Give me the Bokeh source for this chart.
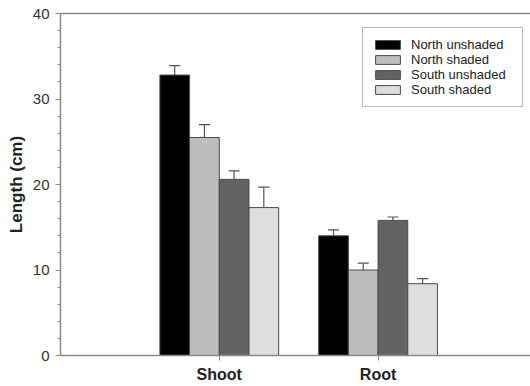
from bokeh.plotting import figure
from bokeh.models import (Range1d, FixedTicker, LinearAxis, Legend, LegendItem,
                          ColumnDataSource, Whisker, TeeHead)
from bokeh.embed import file_html
from bokeh.resources import INLINE

# Plant part groups and the four treatment series (mean length, cm, and SE)
categories = ["Shoot", "Root"]
series_names = ["North unshaded", "North shaded", "South unshaded", "South shaded"]
north_unshaded = [32.8, 14.0]
north_unshaded_err = [1.1, 0.7]
north_shaded = [25.5, 10.0]
north_shaded_err = [1.5, 0.8]
south_unshaded = [20.6, 15.8]
south_unshaded_err = [1.0, 0.4]
south_shaded = [17.3, 8.4]
south_shaded_err = [2.4, 0.6]
y_ticks = [0, 10, 20, 30, 40]

values = [north_unshaded, north_shaded, south_unshaded, south_shaded]
errors = [north_unshaded_err, north_shaded_err, south_unshaded_err, south_shaded_err]
colors = ["#000000", "#bdbdbd", "#636363", "#dedede"]

group_pos = [1, 2]
bar_w = 0.187
offsets = [-1.5 * bar_w, -0.5 * bar_w, 0.5 * bar_w, 1.5 * bar_w]

p = figure(width=530, height=386, output_backend="svg", toolbar_location=None,
           x_range=Range1d(0, 2.96), y_range=Range1d(0, 40))
p.min_border_left = 60
p.min_border_right = 0
p.min_border_top = 13
p.min_border_bottom = 31
p.outline_line_color = None
p.grid.grid_line_color = None
p.background_fill_color = "white"
p.border_fill_color = "white"

font = "Liberation Sans"
axis_col = "#8a8a8a"

# y axis
ya = p.yaxis[0]
ya.ticker = FixedTicker(ticks=y_ticks, minor_ticks=[v for v in range(0, 41, 2)])
ya.axis_line_color = axis_col
ya.axis_line_width = 1.5
ya.major_tick_line_color = axis_col
ya.minor_tick_line_color = axis_col
ya.major_tick_in = 0
ya.major_tick_out = 5
ya.minor_tick_in = 0
ya.minor_tick_out = 3
ya.major_label_text_font = font
ya.major_label_text_font_size = "15px"
ya.major_label_text_color = "#333333"
ya.major_label_standoff = 6
ya.axis_label = "Length (cm)"
ya.axis_label_text_font = font
ya.axis_label_text_font_style = "bold"
ya.axis_label_text_font_size = "17px"
ya.axis_label_text_color = "#222222"
ya.axis_label_standoff = 4

# x axis with category labels
xa = p.xaxis[0]
xa.ticker = FixedTicker(ticks=group_pos, minor_ticks=[])
xa.major_label_overrides = {g: c for g, c in zip(group_pos, categories)}
xa.axis_line_color = axis_col
xa.axis_line_width = 1.5
xa.major_tick_line_color = axis_col
xa.major_tick_in = 0
xa.major_tick_out = 5
xa.minor_tick_line_color = None
xa.major_label_text_font = font
xa.major_label_text_font_style = "bold"
xa.major_label_text_font_size = "16px"
xa.major_label_text_color = "#222222"
xa.major_label_standoff = 5

# top frame line
top = LinearAxis(ticker=FixedTicker(ticks=[]), major_label_text_font_size="0px",
                 axis_line_color=axis_col, axis_line_width=1.5,
                 major_tick_line_color=None, minor_tick_line_color=None)
p.add_layout(top, "above")

items = []
for name, vals, errs, col, off in zip(series_names, values, errors, colors, offsets):
    xs = [g + off for g in group_pos]
    src = ColumnDataSource(dict(x=xs, top=vals, upper=[v + e for v, e in zip(vals, errs)]))
    r = p.vbar(x="x", top="top", width=bar_w, source=src, fill_color=col,
               line_color="#4a4a4a", line_width=1)
    w = Whisker(base="x", lower="top", upper="upper", source=src,
                line_color="#555555", line_width=1.2,
                upper_head=TeeHead(size=11, line_color="#555555", line_width=1.2),
                lower_head=None)
    p.add_layout(w)
    items.append(LegendItem(label=name, renderers=[r]))

legend = Legend(items=items, location=(302, 248))
legend.label_text_font = font
legend.label_text_font_size = "13px"
legend.label_text_color = "#222222"
legend.glyph_width = 31
legend.glyph_height = 11
legend.label_height = 15
legend.label_width = 102
legend.spacing = 0
legend.padding = 9
legend.margin = 0
legend.label_standoff = 8
legend.border_line_color = "#777777"
legend.border_line_width = 1.5
legend.background_fill_alpha = 1
p.add_layout(legend)

open("out.html", "w").write(file_html(p, INLINE))
